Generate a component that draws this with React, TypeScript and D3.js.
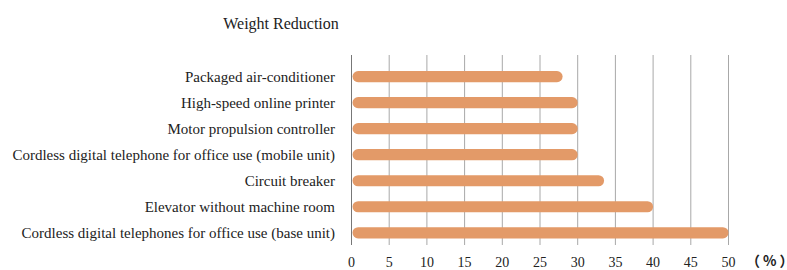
import React, { useRef, useEffect } from "react";
import * as d3 from "d3";

const categories = [
  "Packaged air-conditioner",
  "High-speed online printer",
  "Motor propulsion controller",
  "Cordless digital telephone for office use (mobile unit)",
  "Circuit breaker",
  "Elevator without machine room",
  "Cordless digital telephones for office use (base unit)",
];
const reduction = [28, 30, 30, 30, 33.5, 40, 50];
const xTicks = [0, 5, 10, 15, 20, 25, 30, 35, 40, 45, 50];
const title = "Weight Reduction";
const unitLabel = "（%）";

const App = () => {
  const svgRef = useRef<SVGSVGElement>(null);
  const width = 787;
  const height = 270;

  useEffect(() => {
    const svg = d3.select(svgRef.current);
    svg.selectAll("*").remove();
    const font = "Liberation Serif, DejaVu Serif, serif";

    const x = d3.scaleLinear().domain([0, 50]).range([351.5, 728.5]);
    const y = d3
      .scaleBand()
      .domain(categories)
      .range([63.7, 245.7])
      .paddingInner(0.57)
      .paddingOuter(0.28);

    // title
    svg
      .append("text")
      .attr("x", 281)
      .attr("y", 29)
      .attr("text-anchor", "middle")
      .style("font-family", font)
      .style("font-size", "16px")
      .attr("fill", "#222")
      .text(title);

    // grid
    svg
      .append("g")
      .selectAll("line")
      .data(xTicks)
      .join("line")
      .attr("x1", (d) => x(d))
      .attr("x2", (d) => x(d))
      .attr("y1", 55)
      .attr("y2", 245)
      .attr("stroke", (d) => (d === 0 ? "#777" : "#a8a8a8"))
      .attr("stroke-width", 1);

    // tick labels
    svg
      .append("g")
      .selectAll("text")
      .data(xTicks)
      .join("text")
      .attr("x", (d) => x(d))
      .attr("y", 267)
      .attr("text-anchor", "middle")
      .style("font-family", font)
      .style("font-size", "14px")
      .attr("fill", "#222")
      .text((d) => d);

    svg
      .append("text")
      .attr("x", 746)
      .attr("y", 266)
      .style("font-family", "Noto Sans CJK JP, sans-serif")
      .style("font-size", "14px")
      .style("font-weight", "bold")
      .style("letter-spacing", "3px")
      .attr("fill", "#222")
      .text(unitLabel);

    // category labels
    svg
      .append("g")
      .selectAll("text")
      .data(categories)
      .join("text")
      .attr("x", 335)
      .attr("y", (d) => (y(d) as number) + y.bandwidth() / 2)
      .attr("dy", "0.33em")
      .attr("text-anchor", "end")
      .style("font-family", font)
      .style("font-size", "15px")
      .attr("fill", "#222")
      .text((d) => d);

    // bars
    const h = y.bandwidth();
    svg
      .append("g")
      .selectAll("rect")
      .data(reduction)
      .join("rect")
      .attr("x", x(0) + 1)
      .attr("y", (d, i) => y(categories[i]) as number)
      .attr("width", (d) => x(d) - x(0) - 1)
      .attr("height", h)
      .attr("rx", h / 2)
      .attr("fill", "#e39a68");
  }, []);

  return (
    <div>
      <svg
        ref={svgRef}
        width={width}
        height={height}
        style={{ position: "absolute", left: 0, top: 0 }}
      />
    </div>
  );
};

export default App;
